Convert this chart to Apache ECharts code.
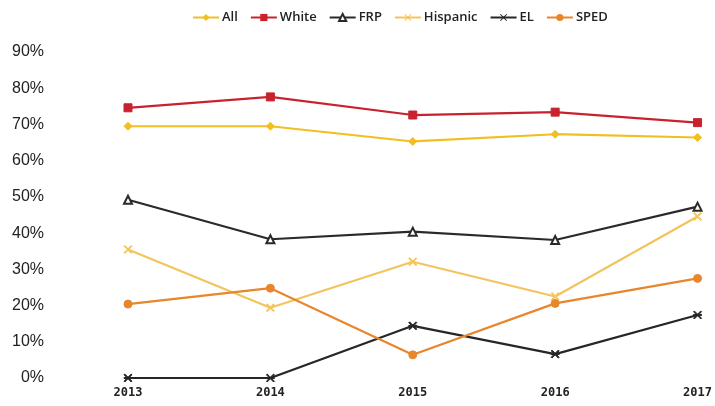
<!DOCTYPE html>
<html>
<head>
<meta charset="utf-8">
<style>
  html, body { margin: 0; padding: 0; background: #fff; }
  #chart { width: 715px; height: 406px; }
</style>
<script src="https://cdn.jsdelivr.net/npm/echarts@6/dist/echarts.min.js"></script>
</head>
<body>
<div id="chart"></div>
<script>
// School years on the x axis
const years = ['2013', '2014', '2015', '2016', '2017'];

// Rates per student group, in percent
const allStudents = [69.5, 69.5, 65.3, 67.3, 66.4];
const white       = [74.6, 77.6, 72.6, 73.4, 70.5];
const frp         = [49.2, 38.3, 40.4, 38.1, 47.3];
const hispanic    = [35.5, 19.4, 32.1, 22.5, 44.6];
const el          = [0, 0, 14.4, 6.6, 17.4];
const sped        = [20.4, 24.8, 6.4, 20.6, 27.5];

const yTicks = { min: 0, max: 90, interval: 10 };

// Marker shapes
const xMark = 'path://M0,1L1,0L5,4L9,0L10,1L6,5L10,9L9,10L5,6L1,10L0,9L4,5Z';
const starMark = 'path://M0,1L1,0L5,4L9,0L10,1L6,5L10,9L9,10L5,6L1,10L0,9L4,5Z M0,4.4L10,4.4L10,5.6L0,5.6Z';

function line(name, data, color, symbol, size, extra) {
  return Object.assign({
    name: name,
    type: 'line',
    data: data,
    symbol: symbol,
    symbolSize: size,
    showSymbol: true,
    lineStyle: { color: color, width: 2.2 },
    itemStyle: { color: color, borderColor: color },
    emphasis: { disabled: true },
    z: 2
  }, extra || {});
}

const chart = echarts.init(document.getElementById('chart'), null, { renderer: 'canvas' });
chart.setOption({
  animation: false,
  backgroundColor: '#fff',
  legend: {
    top: 6,
    left: 187,
    itemWidth: 26,
    itemHeight: 9,
    itemGap: 12,
    textStyle: { fontFamily: 'Open Sans, sans-serif', fontSize: 13, color: '#222', fontWeight: 600, padding: [0, 0, 0, -2] },
    data: ['All', 'White', 'FRP', 'Hispanic', 'EL', 'SPED']
  },
  grid: { left: 128, right: 15, top: 52, bottom: 28, containLabel: false },
  xAxis: {
    type: 'category',
    data: years,
    boundaryGap: false,
    axisLine: { show: false },
    axisTick: { show: false },
    splitLine: { show: false },
    axisLabel: {
      margin: 9,
      fontFamily: 'DejaVu Sans Mono, monospace',
      fontWeight: 'bold',
      fontSize: 12,
      color: '#222'
    }
  },
  yAxis: {
    type: 'value',
    min: yTicks.min,
    max: yTicks.max,
    interval: yTicks.interval,
    axisLine: { show: false },
    axisTick: { show: false },
    splitLine: { show: false },
    axisLabel: {
      margin: 84,
      formatter: '{value}%',
      fontFamily: 'Liberation Sans, Arial, sans-serif',
      fontSize: 16,
      color: '#222'
    }
  },
  series: [
    line('All', allStudents, '#F2BE22', 'diamond', 8),
    line('White', white, '#C8222E', 'rect', 8),
    line('FRP', frp, '#2a2a2a', 'emptyTriangle', 8, { itemStyle: { color: '#2a2a2a', borderWidth: 1.5 } }),
    line('Hispanic', hispanic, '#F3C45E', xMark, 8),
    line('EL', el, '#262626', starMark, 8),
    line('SPED', sped, '#E8862C', 'circle', 8)
  ]
});
</script>
</body>
</html>
